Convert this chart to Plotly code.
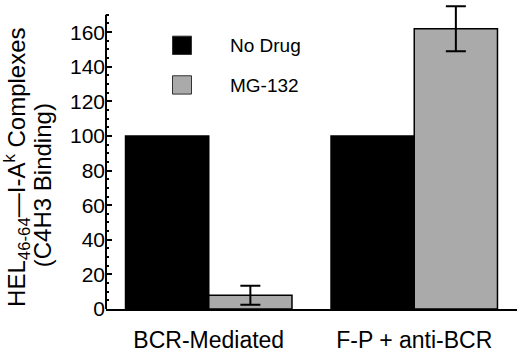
import plotly.graph_objects as go

categories = ["BCR-Mediated", "F-P + anti-BCR"]
no_drug = [100, 100]
mg132 = [8, 162]
mg132_err = [5.5, 13]
y_ticks = [0, 20, 40, 60, 80, 100, 120, 140, 160]
y_minor_ticks = list(range(0, 171, 5))
y_axis_top = 170

FONT = "Liberation Sans, Arial, Helvetica, sans-serif"

fig = go.Figure()
fig.add_trace(go.Bar(
    x=categories, y=no_drug, name="No Drug",
    marker=dict(color="#000000", line=dict(color="#000000", width=1.5)),
    showlegend=False,
))
fig.add_trace(go.Bar(
    x=categories, y=mg132, name="MG-132",
    marker=dict(color="#aaaaaa", line=dict(color="#000000", width=1.5)),
    error_y=dict(type="data", array=mg132_err, visible=True,
                 color="#000000", thickness=2, width=10),
    showlegend=False,
))

W, H = 520, 354
L, R, T, B = 106, 3, 1, 42
pw, ph = W - L - R, H - T - B

def px(x):
    return (x - L) / pw

def py(y):
    return (H - B - y) / ph

shapes = [dict(type="line", xref="paper", yref="y", x0=0, x1=0, y0=0, y1=y_axis_top,
               line=dict(color="#000", width=2))]
annotations = []
legend_items = [("No Drug", "#000000", 36.5), ("MG-132", "#aaaaaa", 76.5)]
for label, color, top in legend_items:
    shapes.append(dict(type="rect", xref="paper", yref="paper",
                       x0=px(172.5), x1=px(191.5), y0=py(top + 18.5), y1=py(top),
                       fillcolor=color, line=dict(color="#333333", width=1)))
    annotations.append(dict(text=label, xref="paper", yref="paper",
                            x=px(228), y=py(top + 9.5), xanchor="left", yanchor="middle",
                            showarrow=False, font=dict(family=FONT, size=19, color="#000")))

title_lines = [("HEL<sub>46-64</sub>—I-A<sup>k</sup> Complexes", 17.5, 169),
               ("(C4H3 Binding)", 42, 187)]
for text, xc, yc in title_lines:
    annotations.append(dict(
        text=text, xref="paper", yref="paper", x=px(xc), y=py(yc),
        xanchor="center", yanchor="middle", textangle=-90, showarrow=False,
        borderpad=0,
        font=dict(family=FONT, size=24, color="#000"),
    ))

fig.update_layout(
    width=W, height=H,
    margin=dict(l=L, r=R, t=T, b=B, pad=0),
    plot_bgcolor="white", paper_bgcolor="white",
    barmode="group", bargap=0.19, bargroupgap=0,
    font=dict(family=FONT, color="#000"),
    shapes=shapes, annotations=annotations,
    xaxis=dict(range=[-0.5, 1.5], showline=True, linecolor="#000", linewidth=2,
               ticks="", showgrid=False, zeroline=False,
               tickfont=dict(family=FONT, size=23, color="#000"),
               ticklabelstandoff=9),
    yaxis=dict(range=[0, 178], showline=False,
               tickmode="array", tickvals=y_ticks, ticktext=[str(v) for v in y_ticks],
               ticks="inside", ticklen=6, tickwidth=2, tickcolor="#000",
               minor=dict(ticks="inside", ticklen=3, tickwidth=1.5, tickcolor="#000",
                          tickmode="array", tickvals=y_minor_ticks),
               showgrid=False, zeroline=False,
               tickfont=dict(family=FONT, size=21, color="#000")),
)

fig.write_html("out.html", config={"displayModeBar": False},
               post_script="document.body.style.margin='0';")
